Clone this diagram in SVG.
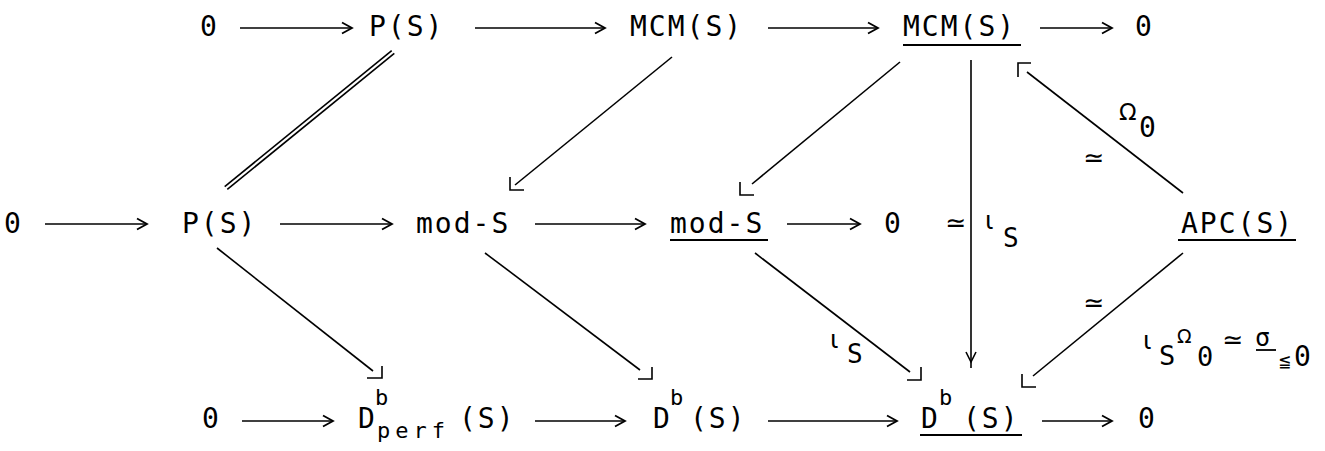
<svg xmlns="http://www.w3.org/2000/svg" width="1325" height="451" viewBox="0 0 1325 451">
<style>
.t{font-family:'DejaVu Sans Mono',monospace;font-size:28px;letter-spacing:2px;fill:#000}
.sc{font-family:'DejaVu Sans Mono',monospace;font-size:22px;letter-spacing:5px;fill:#000}
.sym{font-family:'DejaVu Sans',sans-serif;font-size:25px;text-anchor:middle;fill:#000}
.io{font-family:'DejaVu Sans',sans-serif;font-size:25px;fill:#000}
.om{font-family:'DejaVu Sans',sans-serif;fill:#000}
.c line,.c path{stroke:#000;stroke-width:1.6;fill:none}
.ul{stroke:#000;stroke-width:1.8}
.ar{marker-end:url(#chev)}
</style>
<defs>
<marker id="chev" markerUnits="userSpaceOnUse" markerWidth="14" markerHeight="14" refX="11" refY="6" orient="auto" overflow="visible">
<path d="M1,0.5 L11,6 L1,11.5" fill="none" stroke="#000" stroke-width="1.8"/>
</marker>
</defs>
<rect width="1325" height="451" fill="#fff"/>

<!-- top row -->
<g id="top0"><text class="t" x="200" y="36">0</text></g>
<g id="topPS"><text class="t" x="369" y="36">P(S)</text></g>
<g id="topMCM"><text class="t" x="630" y="36">MCM(S)</text></g>
<g id="topMCMu"><text class="t" x="903" y="36">MCM(S)</text><line class="ul" x1="903" y1="45" x2="1021" y2="45"/></g>
<g id="top0r"><text class="t" x="1135" y="36">0</text></g>

<!-- middle row -->
<g id="mid0"><text class="t" x="4" y="233">0</text></g>
<g id="midPS"><text class="t" x="182" y="233">P(S)</text></g>
<g id="midMod"><text class="t" x="416" y="233">mod-S</text></g>
<g id="midModu"><text class="t" x="670" y="233">mod-S</text><line class="ul" x1="670" y1="240" x2="768" y2="240"/></g>
<g id="mid0r"><text class="t" x="884" y="233">0</text></g>
<g id="apc"><text class="t" x="1181" y="233">APC(S)</text><line class="ul" x1="1178" y1="240" x2="1296" y2="240"/></g>

<!-- bottom row -->
<g id="bot0"><text class="t" x="202" y="428">0</text></g>
<g id="dperf"><text class="t" x="358" y="428" style="letter-spacing:0">D</text><text class="sc" x="375" y="405">b</text><text class="sc" x="377" y="438">perf</text><text class="t" x="459" y="428">(S)</text></g>
<g id="db"><text class="t" x="653" y="428" style="letter-spacing:0">D</text><text class="sc" x="670" y="405">b</text><text class="t" x="690" y="428">(S)</text></g>
<g id="dbu"><text class="t" x="921" y="428" style="letter-spacing:0">D</text><text class="sc" x="939" y="405">b</text><text class="t" x="963" y="428">(S)</text><line class="ul" x1="920" y1="435" x2="1022" y2="435"/></g>
<g id="bot0r"><text class="t" x="1138" y="428">0</text></g>

<!-- connectors -->
<g id="connectors" class="c">
<line class="ar" x1="240" y1="28" x2="352" y2="28"/>
<line class="ar" x1="475" y1="28" x2="605" y2="28"/>
<line class="ar" x1="768" y1="28" x2="878" y2="28"/>
<line class="ar" x1="1040" y1="28" x2="1112" y2="28"/>

<line class="ar" x1="45" y1="224" x2="147" y2="224"/>
<line class="ar" x1="280" y1="224" x2="392" y2="224"/>
<line class="ar" x1="535" y1="224" x2="645" y2="224"/>
<line class="ar" x1="787" y1="224" x2="860" y2="224"/>

<line class="ar" x1="242" y1="421" x2="333" y2="421"/>
<line class="ar" x1="535" y1="421" x2="625" y2="421"/>
<line class="ar" x1="768" y1="421" x2="897" y2="421"/>
<line class="ar" x1="1042" y1="421" x2="1112" y2="421"/>

<!-- double line P(S)=P(S) -->
<line x1="391.7" y1="50.6" x2="224.7" y2="186.6"/>
<line x1="394.3" y1="53.4" x2="227.3" y2="189.4"/>

<!-- MCM -> mod-S -->
<line x1="672" y1="57" x2="515" y2="185"/>
<path d="M510,177 L510,190 L524,190"/>
<!-- MCM_ -> mod-S_ -->
<line x1="900" y1="62" x2="752" y2="184"/>
<path d="M740,182 L740,195 L754,195"/>
<!-- vertical MCM_ -> Db_ -->
<line x1="971" y1="60" x2="971" y2="368"/>
<path d="M966,352 L971,362 L976,352"/>
<!-- P(S) -> Dperf -->
<line x1="217" y1="248" x2="373" y2="371"/>
<path d="M367,378 L382,378 L382,366"/>
<!-- mod-S -> Db -->
<line x1="485" y1="253" x2="640" y2="370"/>
<path d="M638,379 L652,379 L652,367"/>
<!-- mod-S_ -> Db_ -->
<line x1="755" y1="253" x2="910" y2="372"/>
<path d="M907,380 L921,380 L921,367"/>
<!-- APC -> MCM_ -->
<line x1="1183" y1="193" x2="1027" y2="72"/>
<path d="M1031,63 L1018,63 L1018,77"/>
<!-- APC -> Db_ -->
<line x1="1183" y1="253" x2="1033" y2="376"/>
<path d="M1022,374 L1022,387 L1036,387"/>
</g>

<!-- labels -->
<g id="labels">
<text class="om" x="1119" y="120" style="font-size:23px">Ω</text>
<text class="t" x="1139" y="137">0</text>
<text class="sym" x="1094" y="166">≃</text>
<text class="sym" x="956" y="231">≃</text>
<text class="io" x="985" y="229">ι</text>
<text class="t" x="1003" y="247" style="font-size:26px">S</text>
<text class="sym" x="1094" y="311">≃</text>
<text class="io" x="830" y="348">ι</text>
<text class="t" x="847" y="363" style="font-size:26px">S</text>
<text class="io" x="1143" y="349">ι</text>
<text class="t" x="1159" y="365" style="font-size:27px">S</text>
<text class="om" x="1177" y="343" style="font-size:19px">Ω</text>
<text class="t" x="1197" y="366" style="font-size:27px">0</text>
<text class="sym" x="1233" y="348">≃</text>
<text class="t" x="1255" y="346" style="font-size:25px">σ</text>
<line class="ul" x1="1256" y1="350" x2="1276" y2="350"/>
<text class="t" x="1279" y="367" style="font-size:19px;letter-spacing:0">≦</text>
<text class="t" x="1294" y="366">0</text>
</g>
</svg>
